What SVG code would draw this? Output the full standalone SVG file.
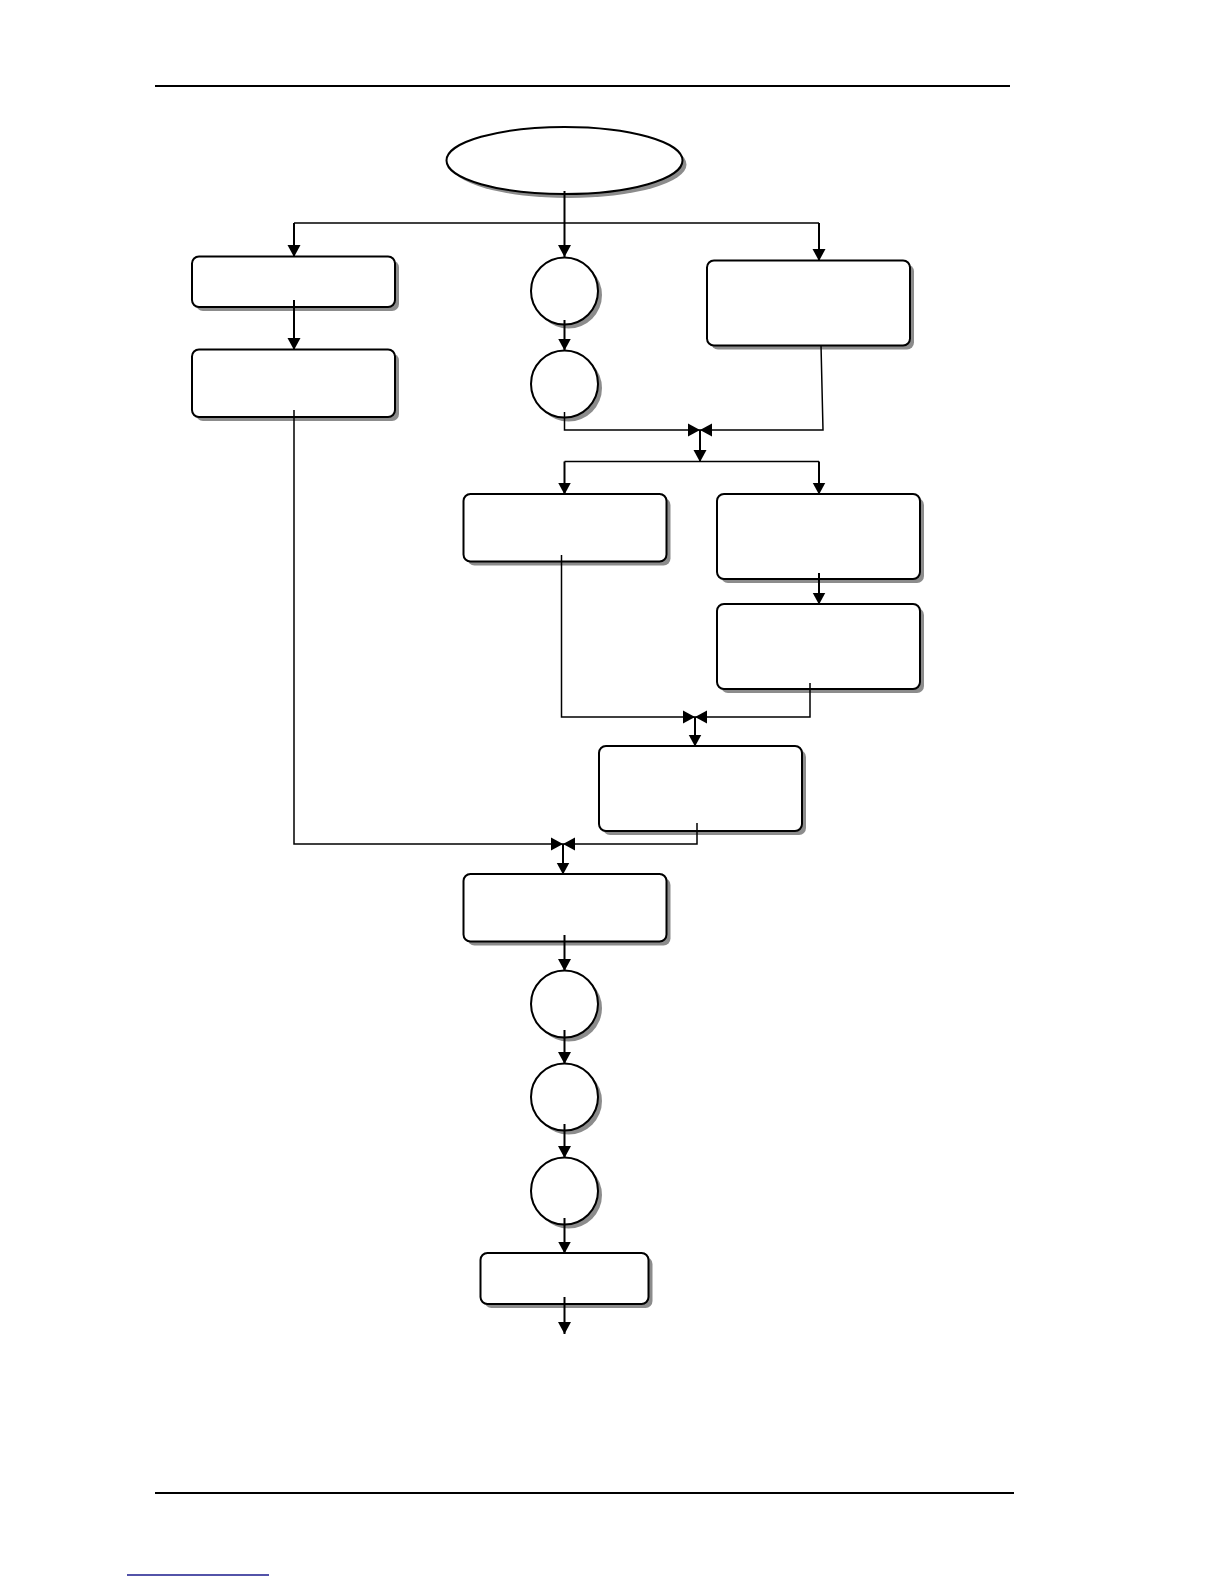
<svg xmlns="http://www.w3.org/2000/svg" xmlns:xlink="http://www.w3.org/1999/xlink" width="1224" height="1584" viewBox="0 0 1224 1584">
<style>
.shadow{fill:#8c8c8c;stroke:none}
.node{fill:#ffffff;stroke:#000;stroke-width:2}
.rule{stroke:#000;stroke-width:2}
.ln{fill:none;stroke:#000;stroke-width:1.5}
.ar{fill:none;stroke:#000;stroke-width:2;marker-end:url(#ah)}
.arj{fill:none;stroke:#000;stroke-width:1.5;marker-end:url(#ah)}
</style>
<defs>
<marker id="ah" markerUnits="userSpaceOnUse" markerWidth="14" markerHeight="14" refX="12" refY="7" orient="auto">
<path d="M0,0.5 L12,7 L0,13.5 z" fill="#000"/>
</marker>
</defs>
<rect width="1224" height="1584" fill="#fff"/>
<line class="rule" x1="155" y1="86" x2="1010" y2="86"/>
<line class="rule" x1="155" y1="1493" x2="1014" y2="1493"/>
<line x1="127" y1="1575" x2="269" y2="1575" stroke="#1a1a8c" stroke-width="1.5"/>

<g id="start">
<ellipse class="shadow" cx="568.5" cy="164.5" rx="118" ry="33.5"/>
<ellipse class="node" cx="564.5" cy="160.5" rx="118" ry="33.5"/>
</g>
<g id="box-l1">
<rect class="shadow" x="196" y="260.5" width="203" height="50.5" rx="7"/>
<rect class="node" x="192" y="256.5" width="203" height="50.5" rx="7"/>
</g>
<g id="box-l2">
<rect class="shadow" x="196" y="353.5" width="203" height="67.5" rx="7"/>
<rect class="node" x="192" y="349.5" width="203" height="67.5" rx="7"/>
</g>
<g id="circle-1">
<circle class="shadow" cx="568.5" cy="295" r="33.5"/>
<circle class="node" cx="564.5" cy="291" r="33.5"/>
</g>
<g id="circle-2">
<circle class="shadow" cx="568.5" cy="388" r="33.5"/>
<circle class="node" cx="564.5" cy="384" r="33.5"/>
</g>
<g id="box-r1">
<rect class="shadow" x="711" y="264.5" width="203" height="85" rx="7"/>
<rect class="node" x="707" y="260.5" width="203" height="85" rx="7"/>
</g>
<g id="box-a">
<rect class="shadow" x="467.5" y="498" width="203" height="67.5" rx="7"/>
<rect class="node" x="463.5" y="494" width="203" height="67.5" rx="7"/>
</g>
<g id="box-b">
<rect class="shadow" x="721" y="498" width="203" height="85" rx="7"/>
<rect class="node" x="717" y="494" width="203" height="85" rx="7"/>
</g>
<g id="box-c">
<rect class="shadow" x="721" y="608" width="203" height="85" rx="7"/>
<rect class="node" x="717" y="604" width="203" height="85" rx="7"/>
</g>
<g id="box-d">
<rect class="shadow" x="603" y="750" width="203" height="85" rx="7"/>
<rect class="node" x="599" y="746" width="203" height="85" rx="7"/>
</g>
<g id="box-e">
<rect class="shadow" x="467.5" y="878" width="203" height="67.5" rx="7"/>
<rect class="node" x="463.5" y="874" width="203" height="67.5" rx="7"/>
</g>
<g id="circle-3">
<circle class="shadow" cx="568.5" cy="1008" r="33.5"/>
<circle class="node" cx="564.5" cy="1004" r="33.5"/>
</g>
<g id="circle-4">
<circle class="shadow" cx="568.5" cy="1101" r="33.5"/>
<circle class="node" cx="564.5" cy="1097" r="33.5"/>
</g>
<g id="circle-5">
<circle class="shadow" cx="568.5" cy="1195" r="33.5"/>
<circle class="node" cx="564.5" cy="1191" r="33.5"/>
</g>
<g id="box-f">
<rect class="shadow" x="484.5" y="1257" width="168" height="51" rx="7"/>
<rect class="node" x="480.5" y="1253" width="168" height="51" rx="7"/>
</g>

<g id="connectors">
<line class="ln" x1="294" y1="223" x2="819" y2="223"/>
<line class="ar" x1="564.5" y1="191" x2="564.5" y2="257"/>
<line class="ar" x1="294" y1="223" x2="294" y2="257"/>
<line class="ar" x1="819" y1="223" x2="819" y2="261"/>
<line class="ar" x1="294" y1="300" x2="294" y2="350"/>
<polyline class="arj" points="294,410 294,844 563,844"/>
<line class="ar" x1="564.5" y1="320" x2="564.5" y2="350.5"/>
<polyline class="arj" points="564.5,412 564.5,430 700,430"/>
<polyline class="arj" points="821,345 823,430 700,430"/>
<line class="ar" x1="700" y1="430" x2="700" y2="462"/>
<line class="ln" x1="564.5" y1="461.5" x2="819" y2="461.5"/>
<line class="ar" x1="564.5" y1="461.5" x2="564.5" y2="494.5"/>
<line class="ar" x1="819" y1="461.5" x2="819" y2="494.5"/>
<line class="ar" x1="819" y1="573" x2="819" y2="604.5"/>
<polyline class="arj" points="561.5,555 561.5,717 695,717"/>
<polyline class="arj" points="810,683 810,717 695,717"/>
<line class="ar" x1="695" y1="717" x2="695" y2="746.5"/>
<polyline class="arj" points="697,823 697,844 563,844"/>
<line class="ar" x1="563" y1="844" x2="563" y2="874.5"/>
<line class="ar" x1="564.5" y1="935" x2="564.5" y2="971"/>
<line class="ar" x1="564.5" y1="1030" x2="564.5" y2="1064"/>
<line class="ar" x1="564.5" y1="1124" x2="564.5" y2="1158"/>
<line class="ar" x1="564.5" y1="1218" x2="564.5" y2="1253.5"/>
<line class="ar" x1="564.5" y1="1297" x2="564.5" y2="1334"/>
</g>
</svg>
